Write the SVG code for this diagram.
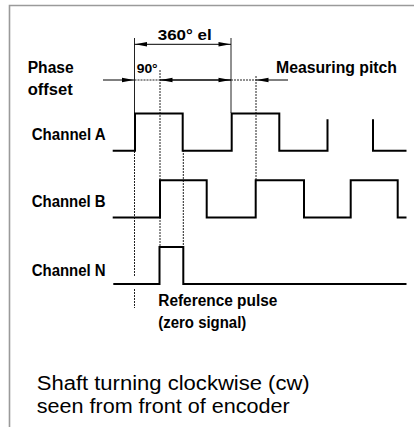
<svg xmlns="http://www.w3.org/2000/svg" width="414" height="427" viewBox="0 0 414 427">
<style>
.frame{fill:none;stroke:#9a9a9a;stroke-width:1.6}
.wave{fill:none;stroke:#000;stroke-width:2;stroke-linejoin:miter}
.ext{fill:none;stroke:#222;stroke-width:1}
.dot{fill:none;stroke:#222;stroke-width:1;stroke-dasharray:2,1}
.dim{fill:none;stroke:#000;stroke-width:1}
.lbl{font-family:"Liberation Sans",Arial,sans-serif;font-weight:bold;fill:#000}
.note{font-family:"Liberation Sans",Arial,sans-serif;font-size:20px;fill:#000}
.ah{fill:#000}
</style>
<defs>
<path id="ah" d="M0,0 L-12,-2.2 L-12,2.2 Z"/>
</defs>
<rect width="414" height="427" fill="#fff"/>
<path class="frame" d="M9.5,427 L9.5,5.5 L414,5.5"/>

<g id="connectors">
  <line class="ext" x1="134.5" y1="38" x2="134.5" y2="113"/>
  <line class="dot" x1="134.5" y1="151" x2="134.5" y2="277"/>
  <line class="dot" x1="134.5" y1="289" x2="134.5" y2="308"/>
  <line class="ext" x1="231" y1="38" x2="231" y2="113"/>
  <line class="dot" x1="160" y1="70" x2="160" y2="246"/>
  <line class="dot" x1="183.3" y1="150" x2="183.3" y2="246"/>
  <line class="dot" x1="256" y1="76" x2="256" y2="180"/>
  <line class="dim" x1="134.5" y1="44.3" x2="231" y2="44.3"/>
  <use href="#ah" class="ah" transform="translate(135,44.3) rotate(180)"/>
  <use href="#ah" class="ah" transform="translate(230.5,44.3)"/>
  <line class="dim" x1="103" y1="80" x2="134.5" y2="80"/>
  <line class="dot" x1="134.5" y1="80" x2="160" y2="80"/>
  <line class="dim" x1="160" y1="80" x2="231" y2="80" style="stroke-width:1.5"/>
  <line class="dot" x1="231" y1="80" x2="256" y2="80"/>
  <line class="dim" x1="256" y1="80" x2="288" y2="80"/>
  <use href="#ah" class="ah" transform="translate(134,80)"/>
  <use href="#ah" class="ah" transform="translate(160.5,80) rotate(180)"/>
  <use href="#ah" class="ah" transform="translate(230.5,80)"/>
  <use href="#ah" class="ah" transform="translate(256.5,80) rotate(180)"/>
</g>

<g id="channel-a">
  <text class="lbl" x="31.7" y="140" font-size="16" textLength="74" lengthAdjust="spacingAndGlyphs">Channel A</text>
  <path class="wave" d="M112.7,150.7 H135 V113.5 H182.7 V150.7 H231.7 V113.5 H279.3 V150.7 H327.5 V119.3"/>
  <path class="wave" d="M373,119.3 V150.7 H406.5"/>
</g>

<g id="channel-b">
  <text class="lbl" x="31.7" y="207.3" font-size="16" textLength="74" lengthAdjust="spacingAndGlyphs">Channel B</text>
  <path class="wave" d="M112.7,217.5 H160 V180.3 H206.7 V217.5 H255.7 V180.3 H304 V217.5 H350.7 V180.3 H397.7 V217.5 H406.5"/>
</g>

<g id="channel-n">
  <text class="lbl" x="31.7" y="275.7" font-size="16" textLength="74" lengthAdjust="spacingAndGlyphs">Channel N</text>
  <path class="wave" d="M113.3,284 H159.5 V247 H183.3 V284 H406.5"/>
</g>

<g id="labels">
  <text class="lbl" x="27.7" y="73" font-size="16" textLength="46" lengthAdjust="spacingAndGlyphs">Phase</text>
  <text class="lbl" x="27.7" y="95" font-size="16" textLength="45" lengthAdjust="spacingAndGlyphs">offset</text>
  <text class="lbl" x="157.7" y="40" font-size="15" textLength="54" lengthAdjust="spacingAndGlyphs">360° el</text>
  <text class="lbl" x="136.7" y="73.3" font-size="13" textLength="21" lengthAdjust="spacingAndGlyphs">90°</text>
  <text class="lbl" x="276" y="73" font-size="16" textLength="121" lengthAdjust="spacingAndGlyphs">Measuring pitch</text>
  <text class="lbl" x="158.3" y="306" font-size="16" textLength="119" lengthAdjust="spacingAndGlyphs">Reference pulse</text>
  <text class="lbl" x="158.3" y="327.5" font-size="16" textLength="88" lengthAdjust="spacingAndGlyphs">(zero signal)</text>
</g>

<g id="note">
  <text class="note" x="36.7" y="389.5" textLength="273" lengthAdjust="spacingAndGlyphs">Shaft turning clockwise (cw)</text>
  <text class="note" x="36.7" y="412.5" textLength="253" lengthAdjust="spacingAndGlyphs">seen from front of encoder</text>
</g>
</svg>
